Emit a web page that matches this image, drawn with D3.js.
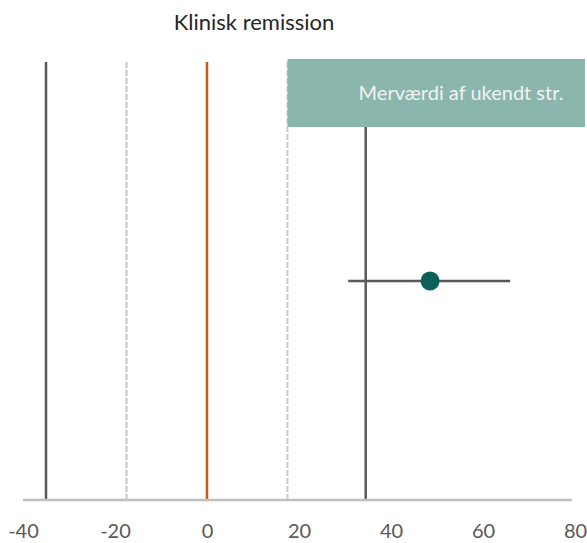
<!DOCTYPE html>
<html><head><meta charset="utf-8">
<script src="https://cdn.jsdelivr.net/npm/d3@7"></script>
<style>html,body{margin:0;padding:0;background:#fff;}</style>
</head><body>
<svg id="c" width="587" height="543"></svg>
<script>
const title = "Klinisk remission";
const xTicks = [-40, -20, 0, 20, 40, 60, 80];
const outcomes = ["Klinisk remission"];
const estimates = [48.5];
const ciLow = [30.7];
const ciHigh = [65.9];
const solidLines = [-35, 34.5];
const dashedLines = [-17.5, 17.5];
const nullLine = [0];
const boxLabel = "Merværdi af ukendt str.";
const boxFrom = [17.5];

(function () {
const svg = d3.select("#c");
const x = d3.scaleLinear().domain([-40, 80]).range([23, 575]);
const plotTop = 62, axisY = 500;
const y = d3.scaleLinear().domain([0, 1]).range([axisY, plotTop]);
const boxTop = 59, boxBottom = 127;
const font = "Lato, 'Open Sans', sans-serif";

svg.append("text").attr("x", 254).attr("y", 30).attr("text-anchor", "middle")
  .attr("font-family", font).attr("font-size", 22)
  .attr("fill", "#262626").text(title);

svg.selectAll(".dl").data(dashedLines).join("line")
  .attr("x1", d => x(d)).attr("x2", d => x(d)).attr("y1", plotTop).attr("y2", axisY)
  .attr("stroke", "#c9c9c9").attr("stroke-width", 2).attr("stroke-dasharray", "6,2");
svg.selectAll(".sl").data(solidLines).join("line")
  .attr("x1", d => x(d)).attr("x2", d => x(d)).attr("y1", plotTop).attr("y2", axisY)
  .attr("stroke", "#595959").attr("stroke-width", 2.5);
svg.selectAll(".nl").data(nullLine).join("line")
  .attr("x1", d => x(d)).attr("x2", d => x(d)).attr("y1", plotTop).attr("y2", axisY)
  .attr("stroke", "#c55a11").attr("stroke-width", 2.5);

svg.selectAll(".box").data(boxFrom).join("rect")
  .attr("x", d => x(d)).attr("y", boxTop).attr("width", d => 585 - x(d)).attr("height", boxBottom - boxTop)
  .attr("fill", "#8ab6ae");
svg.append("text").attr("x", 461).attr("y", 100).attr("text-anchor", "middle")
  .attr("font-family", font).attr("font-size", 20)
  .attr("fill", "#f2f2f2").text(boxLabel);

const axis = d3.axisBottom(x).tickValues(xTicks).tickSize(0).tickPadding(0).tickFormat(d => String(d));
const g = svg.append("g").attr("transform", `translate(0,${axisY})`).call(axis);
g.select(".domain").attr("stroke", "#bfbfbf").attr("stroke-width", 2.5).attr("d", `M${x(-40)},0H572`);
g.selectAll("text").attr("font-family", font).attr("font-size", 20)
  .attr("fill", "#595959").attr("dy", null).attr("y", 38);

const mid = outcomes.map(() => 0.5);
svg.selectAll(".ci").data(outcomes).join("line")
  .attr("x1", (d, i) => x(ciLow[i])).attr("x2", (d, i) => x(ciHigh[i]))
  .attr("y1", (d, i) => y(mid[i])).attr("y2", (d, i) => y(mid[i]))
  .attr("stroke", "#595959").attr("stroke-width", 2.5);
svg.selectAll(".pt").data(outcomes).join("circle")
  .attr("cx", (d, i) => x(estimates[i])).attr("cy", (d, i) => y(mid[i])).attr("r", 9.5)
  .attr("fill", "#0b6157");
})();
</script>
</body></html>
